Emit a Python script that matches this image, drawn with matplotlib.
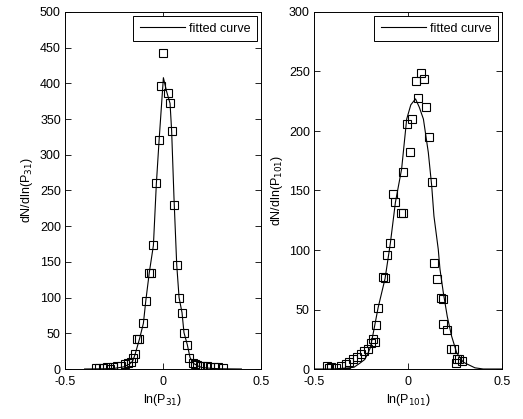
import matplotlib
matplotlib.use("Agg")
import matplotlib.pyplot as plt

plt.rcParams['font.family'] = ['Liberation Sans', 'DejaVu Sans']

# left panel: P31 data points
x31 = [-0.342, -0.325, -0.308, -0.287, -0.270, -0.254, -0.236, -0.216, -0.194, -0.177,
       -0.165, -0.151, -0.143, -0.131, -0.121, -0.100, -0.088, -0.070, -0.063, -0.049,
       -0.036, -0.020, -0.012, 0.002, 0.024, 0.036, 0.044, 0.056, 0.070, 0.082,
       0.097, 0.107, 0.124, 0.134, 0.151, 0.163, 0.175, 0.189, 0.206, 0.223,
       0.240, 0.260, 0.282, 0.308]
y31 = [1.9, 1.9, 1.9, 2.8, 0.5, 2.8, 3.7, 4.7, 6.6, 8.4,
       10, 16, 21, 42, 42, 64, 95, 135, 135, 173,
       260, 321, 397, 443, 386, 372, 334, 229, 146, 100,
       79, 51, 34, 16, 9, 6.6, 5.6, 4.7, 4.7, 3.7,
       2.8, 2.8, 2.8, 1.9]

# left panel: fitted curve
xfit31 = [-0.40, -0.30, -0.25, -0.20, -0.17, -0.155, -0.143, -0.12, -0.10, -0.088,
          -0.07, -0.049, -0.034, -0.02, -0.008, 0.002, 0.019, 0.036, 0.044, 0.056,
          0.07, 0.082, 0.097, 0.107, 0.124, 0.138, 0.155, 0.18, 0.20, 0.25, 0.30, 0.40]
yfit31 = [0, 0.3, 0.8, 3, 7, 11, 20, 42, 64, 95,
          135, 173, 259, 320, 368, 408, 388, 372, 334, 240,
          146, 100, 79, 51, 34, 16, 8, 4, 2, 0.8, 0.3, 0]

# right panel: P101 data points
x101 = [-0.429, -0.420, -0.411, -0.385, -0.358, -0.331, -0.314, -0.290, -0.273, -0.252,
        -0.234, -0.213, -0.195, -0.186, -0.178, -0.169, -0.159, -0.135, -0.122, -0.114,
        -0.094, -0.078, -0.068, -0.039, -0.028, -0.025, -0.004, 0.011, 0.023, 0.041,
        0.055, 0.067, 0.085, 0.096, 0.113, 0.129, 0.138, 0.156, 0.174, 0.185,
        0.186, 0.207, 0.227, 0.245, 0.254, 0.259, 0.273, 0.286]
y101 = [2.4, 0.5, 1.5, 1, 2.4, 3.8, 5.7, 8, 10.2, 12.2,
        15, 16.4, 22, 25.4, 22.5, 37, 51.5, 77.5, 76.4, 95.5,
        105.5, 147, 140, 131, 131, 165.5, 206, 182, 210, 242,
        228, 249, 244, 220, 195, 157, 88.7, 76, 60, 59,
        38, 33, 17, 17, 5.2, 8.6, 8, 6.6]

xfit101 = [-0.5, -0.4, -0.31, -0.287, -0.255, -0.23, -0.212, -0.2, -0.185, -0.159,
           -0.122, -0.094, -0.067, -0.034, -0.007, 0.015, 0.04, 0.06, 0.082, 0.108,
           0.126, 0.138, 0.161, 0.17, 0.188, 0.209, 0.232, 0.259, 0.294, 0.356, 0.4, 0.5]
yfit101 = [0, 0, 1, 1.5, 5, 8, 13.6, 18, 30, 51.5,
           76, 105.5, 140, 168, 210, 222, 227, 220, 210, 182,
           154, 128.5, 100.5, 84, 64, 44, 27.6, 13.6, 5.7, 1, 0, 0]

fig = plt.figure(figsize=(5.23, 4.19), dpi=100)
W, H = 523, 419

panels = [
    (x31, y31, xfit31, yfit31, 500, '31', [65, 12, 261, 369], 35),
    (x101, y101, xfit101, yfit101, 300, '101', [314, 12, 502, 369], 285),
]

for xs, ys, xf, yf, ymax, sub, (l, t, r, b), ylx in panels:
    ax = fig.add_axes([l / W, 1 - b / H, (r - l) / W, (b - t) / H])
    ax.plot(xs, ys, 's', mfc='none', mec='black', ms=6.3, mew=0.8)
    fit, = ax.plot(xf, yf, '-', color='black', lw=0.8)
    ax.set_xlim(-0.5, 0.5)
    ax.set_ylim(0, ymax)
    ax.set_xticks([-0.5, 0, 0.5])
    ax.set_xticklabels(['-0.5', '0', '0.5'])
    ax.set_yticks(range(0, ymax + 1, 50))
    ax.tick_params(direction='in', top=True, right=True, length=4, width=0.6,
                   labelsize=9, pad=3)
    ax.tick_params(axis='x', pad=5)
    for s in ax.spines.values():
        s.set_linewidth(0.7)
    ax.set_xlabel('ln(P$_{%s}$)' % sub, fontsize=9, labelpad=3)
    ax.set_ylabel('dN/dln(P$_{%s}$)' % sub, fontsize=9)
    ax.yaxis.set_label_coords((ylx - l) / (r - l), 0.5)
    leg = ax.legend([fit], ['fitted curve'], loc='upper right', fontsize=9,
                    fancybox=False, framealpha=1, edgecolor='black',
                    borderaxespad=0.3, handlelength=3.6, handletextpad=0.3,
                    borderpad=0.55)
    leg.get_frame().set_linewidth(0.7)

fig.savefig('out.png', dpi=100)
